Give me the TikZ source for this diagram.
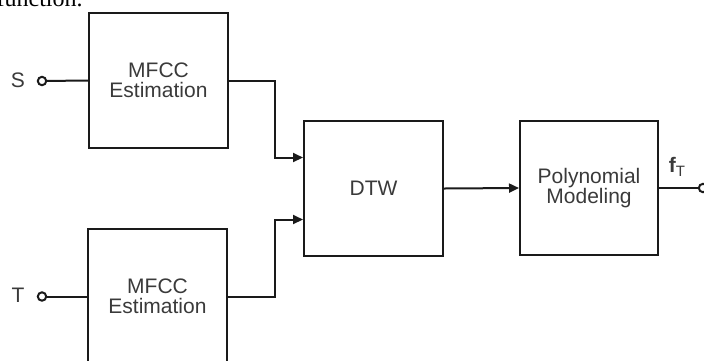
\documentclass[tikz,border=0pt]{standalone}
\usepackage{fontspec}
\setmainfont{Liberation Sans}
\newfontfamily\bodyserif{Liberation Serif}
\usetikzlibrary{arrows.meta,calc}
\definecolor{ink}{HTML}{1A1A1A}
\definecolor{label}{HTML}{3A3A3A}
\tikzset{
  block/.style={draw=ink, line width=1pt, minimum width=69.5pt, minimum height=67.5pt,
    inner sep=0pt, align=center, text=label, font=\fontsize{10.5}{10.2}\selectfont},
  port/.style={circle, draw=ink, line width=1pt, fill=white, minimum size=4.2pt, inner sep=0pt},
  wire/.style={draw=ink, line width=1pt},
  feed/.style={wire, -{Triangle[length=5pt,width=4.5pt]}},
  tag/.style={text=label, font=\fontsize{10.5}{12.5}\selectfont, inner sep=0pt}
}
\begin{document}
\begin{tikzpicture}[x=0.5pt, y=-0.5pt]
  \useasboundingbox (0,0) rectangle (704,360);
  \clip (0,0) rectangle (704,360);

  % running text of the page above the figure
  \node[anchor=base east, inner sep=0pt, font=\bodyserif\fontsize{12}{14}\selectfont] (caption) at (83,6) {function.};

  % processing blocks
  \node[block] (mfccS) at (158.5,80.5) {MFCC\\Estimation};
  \node[block] (mfccT) at (157.5,296.5) {MFCC\\Estimation};
  \node[block] (dtw) at (373.5,188.5) {DTW};
  \node[block, minimum width=69pt, minimum height=67pt] (poly) at (589,188) {Polynomial\\Modeling};

  % input and output terminals
  \node[port] (inS) at (42,81) {};
  \node[port] (inT) at (42,296.5) {};
  \node[port] (outF) at (703,188) {};
  \node[tag] (labS) at (18,80) {S};
  \node[tag] (labT) at (18,295) {T};
  \node[tag, font=\fontsize{10.5}{12.5}\selectfont\bfseries] (labF) at (677,167)
    {f\raisebox{-2.2pt}{\fontsize{7.5}{8}\mdseries\selectfont T}};

  % connections
  \draw[wire] (inS) -- (mfccS.west);
  \draw[wire] (inT) -- (mfccT.west);
  \draw[feed] (mfccS.east) -- ++(46,0) |- ([yshift=15.5pt]dtw.west);
  \draw[feed] (mfccT.east) -- ++(47,0) |- ([yshift=-15.5pt]dtw.west);
  \draw[feed] (dtw.east) -- (poly.west);
  \draw[wire] (poly.east) -- (outF);
\end{tikzpicture}
\end{document}
